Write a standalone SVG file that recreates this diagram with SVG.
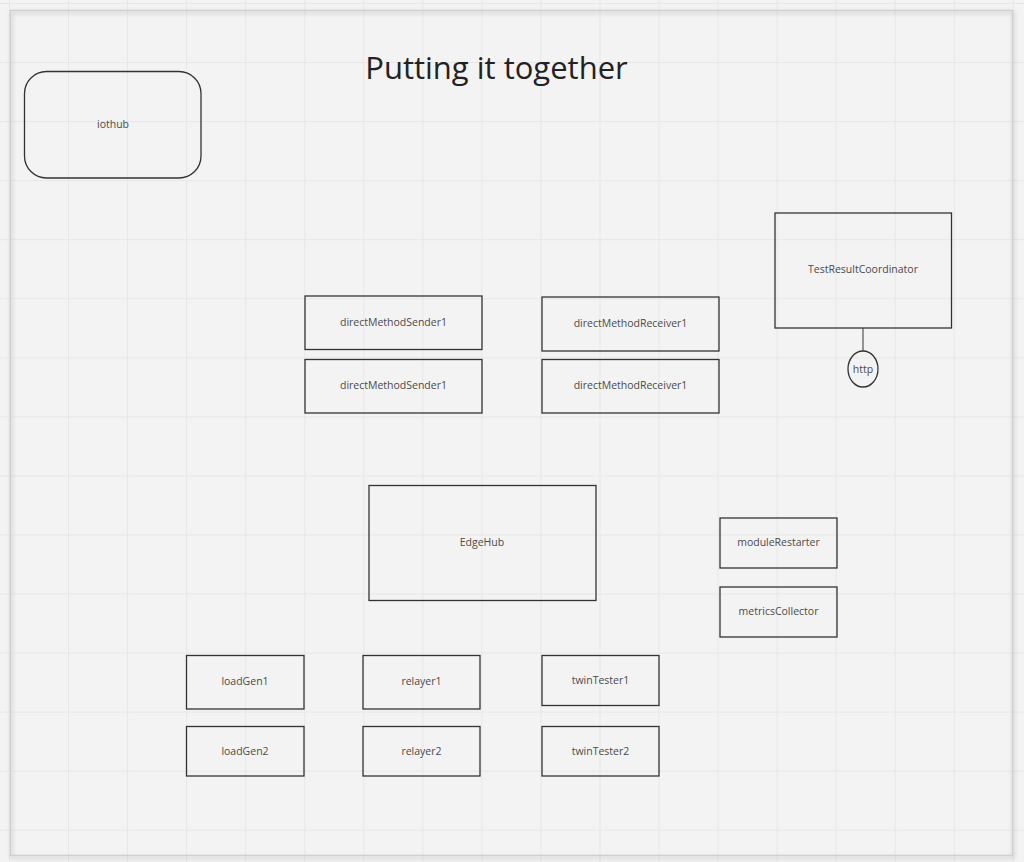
<svg xmlns="http://www.w3.org/2000/svg" width="1024" height="862" viewBox="0 0 1024 862">
<defs>
<pattern id="grid" x="9" y="3" width="59.05" height="59.05" patternUnits="userSpaceOnUse">
<path d="M0 0.5 H59.05 M0.5 0 V59.05" fill="none" stroke="#e7e7e7" stroke-width="1"/>
</pattern>
<filter id="shadow" x="-5%" y="-5%" width="110%" height="110%">
<feGaussianBlur in="SourceAlpha" stdDeviation="2"/>
<feOffset dx="1" dy="2"/>
<feComponentTransfer><feFuncA type="linear" slope="0.25"/></feComponentTransfer>
<feMerge><feMergeNode/><feMergeNode in="SourceGraphic"/></feMerge>
</filter>
</defs>
<style>
.box{fill:none;stroke:#333333;stroke-width:1.3}
.lbl{font-family:"Open Sans","Noto Sans","DejaVu Sans",sans-serif;font-size:10.5px;fill:#4a4a4a;text-anchor:middle;dominant-baseline:central}
.title{font-family:"Open Sans","Noto Sans","DejaVu Sans",sans-serif;font-size:31px;fill:#222222;text-anchor:middle}
.conn{fill:none;stroke:#555555;stroke-width:1.2}
</style>
<rect x="0" y="0" width="1024" height="862" fill="#f3f3f3"/>
<rect x="0" y="0" width="1024" height="862" fill="url(#grid)"/>
<rect x="10.5" y="10.5" width="1002" height="845" fill="none" stroke="#cfcfcf" stroke-width="1.5" filter="url(#shadow)"/>
<text class="title" x="496.5" y="79">Putting it together</text>
<g id="connectors">
<line class="conn" x1="863" y1="328" x2="863" y2="351"/>
</g>
<g id="iothub"><rect class="box" x="24.5" y="71.5" width="176.5" height="106.5" rx="22"/><text class="lbl" x="113" y="123.5">iothub</text></g>
<g id="testResultCoordinator"><rect class="box" x="775" y="213" width="176.5" height="115"/><text class="lbl" x="863" y="268.5">TestResultCoordinator</text></g>
<g id="http"><ellipse class="box" cx="863" cy="369" rx="15" ry="18"/><text class="lbl" x="863" y="368.5">http</text></g>
<g id="directMethodSender1a"><rect class="box" x="305" y="296" width="177" height="53.5"/><text class="lbl" x="393.5" y="321.5">directMethodSender1</text></g>
<g id="directMethodReceiver1a"><rect class="box" x="542" y="297" width="177" height="54"/><text class="lbl" x="630.5" y="322.5">directMethodReceiver1</text></g>
<g id="directMethodSender1b"><rect class="box" x="305" y="359.5" width="177" height="53.5"/><text class="lbl" x="393.5" y="384.5">directMethodSender1</text></g>
<g id="directMethodReceiver1b"><rect class="box" x="542" y="359.5" width="177" height="53.5"/><text class="lbl" x="630.5" y="384.5">directMethodReceiver1</text></g>
<g id="edgeHub"><rect class="box" x="369" y="485.5" width="227" height="115"/><text class="lbl" x="482" y="541.5">EdgeHub</text></g>
<g id="moduleRestarter"><rect class="box" x="720" y="518" width="117" height="50"/><text class="lbl" x="778.5" y="541.5">moduleRestarter</text></g>
<g id="metricsCollector"><rect class="box" x="720" y="587" width="117" height="50"/><text class="lbl" x="778.5" y="610.5">metricsCollector</text></g>
<g id="loadGen1"><rect class="box" x="186.5" y="655.5" width="117.5" height="53.5"/><text class="lbl" x="245" y="680.5">loadGen1</text></g>
<g id="relayer1"><rect class="box" x="363" y="655.5" width="117" height="53.5"/><text class="lbl" x="421.5" y="680.5">relayer1</text></g>
<g id="twinTester1"><rect class="box" x="542" y="655.5" width="117" height="50"/><text class="lbl" x="600.5" y="679.5">twinTester1</text></g>
<g id="loadGen2"><rect class="box" x="186.5" y="726.5" width="117.5" height="49.5"/><text class="lbl" x="245" y="750.5">loadGen2</text></g>
<g id="relayer2"><rect class="box" x="363" y="726.5" width="117" height="49.5"/><text class="lbl" x="421.5" y="750.5">relayer2</text></g>
<g id="twinTester2"><rect class="box" x="542" y="726.5" width="117" height="49.5"/><text class="lbl" x="600.5" y="750.5">twinTester2</text></g>
</svg>
